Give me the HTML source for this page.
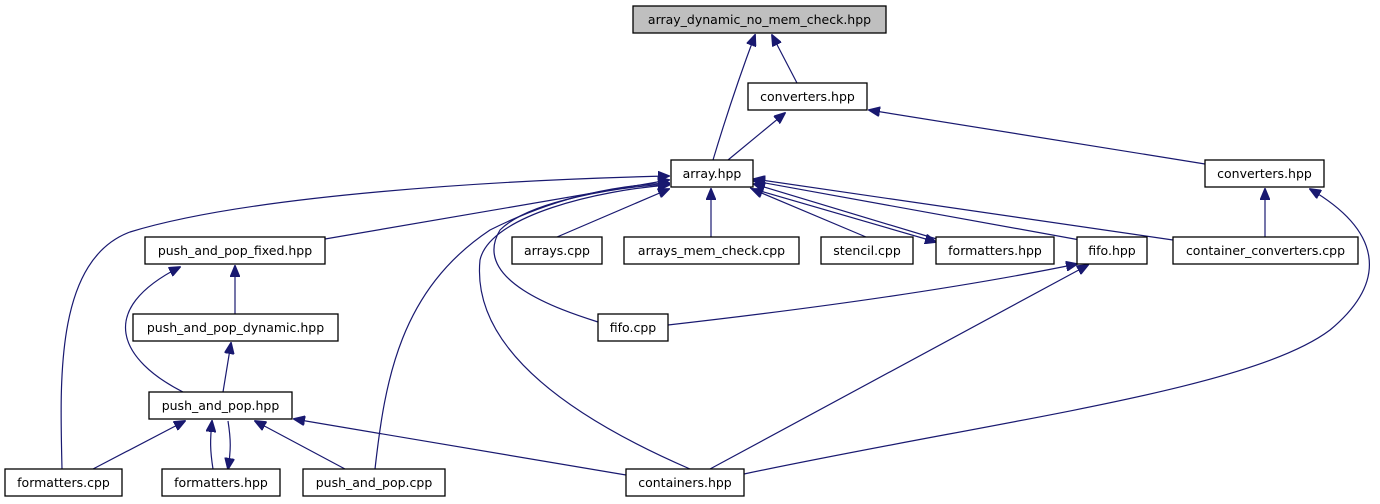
<!DOCTYPE html>
<html><head><style>
html,body{margin:0;padding:0;background:#fff;}
svg{display:block}
text{font-family:"DejaVu Sans","Liberation Sans",sans-serif;font-size:12.5px;fill:#000;text-anchor:middle}
.n{fill:#fff;stroke:#000;stroke-width:1.3}
.e{fill:none;stroke:#191970;stroke-width:1.2;marker-end:url(#ah)}
</style></head><body>
<svg width="1380" height="504" viewBox="0 0 1380 504" xmlns="http://www.w3.org/2000/svg">
<defs><marker id="ah" markerWidth="12" markerHeight="10" refX="11" refY="5" orient="auto" markerUnits="userSpaceOnUse"><path d="M0,0 L12,5 L0,10 Z" fill="#191970" stroke="#191970"/></marker></defs>
<!-- edges -->
<path class="e" d="M713,160 C725,120 740,75 755,35"/>
<path class="e" d="M797,83 L772,35"/>
<path class="e" d="M728,160 L785,113"/>
<path class="e" d="M1205,164 L869,110"/>
<path class="e" d="M1265,237 L1265,189"/>
<path class="e" d="M744,474 C1000,420 1250,390 1330,330 C1390,280 1380,230 1310,189"/>
<path class="e" d="M557,237 L669,189"/>
<path class="e" d="M711,237 L711,189"/>
<path class="e" d="M866,237 L752,189"/>
<path class="e" d="M940,240 L754,184"/>
<path class="e" d="M750,188 L936,242"/>
<path class="e" d="M1080,240 L754,181"/>
<path class="e" d="M1173,240 L754,179"/>
<path class="e" d="M325,239 L669,180"/>
<path class="e" d="M62,469 C60,380 55,260 130,232 C250,195 500,180 669,176"/>
<path class="e" d="M375,469 C385,380 400,290 490,230 C560,195 620,185 669,183"/>
<path class="e" d="M690,469 C600,430 470,360 480,260 C490,215 600,190 669,185"/>
<path class="e" d="M598,322 C560,310 470,280 500,230 C530,200 620,187 669,184"/>
<path class="e" d="M668,325 C800,310 950,290 1077,264"/>
<path class="e" d="M710,469 L1088,265"/>
<path class="e" d="M626,475 L294,419"/>
<path class="e" d="M183,392 C120,360 95,310 180,267"/>
<path class="e" d="M235,314 L235,266"/>
<path class="e" d="M223,392 L231,343"/>
<path class="e" d="M93,469 L185,421"/>
<path class="e" d="M213,469 C210,450 210,440 212,421"/>
<path class="e" d="M228,421 C231,440 231,450 228,469"/>
<path class="e" d="M345,469 L255,421"/>
<!-- nodes -->
<rect x="633" y="6" width="253" height="27" fill="#bfbfbf" stroke="#000" stroke-width="1.3"/><text x="759.5" y="24">array_dynamic_no_mem_check.hpp</text>
<rect class="n" x="748" y="83" width="119" height="27"/><text x="807.5" y="101">converters.hpp</text>
<rect class="n" x="671" y="160" width="82" height="27"/><text x="712" y="178">array.hpp</text>
<rect class="n" x="1205" y="160" width="119" height="27"/><text x="1264.5" y="178">converters.hpp</text>
<rect class="n" x="145" y="237" width="180" height="27"/><text x="235" y="255">push_and_pop_fixed.hpp</text>
<rect class="n" x="512" y="237" width="90" height="27"/><text x="557" y="255">arrays.cpp</text>
<rect class="n" x="624" y="237" width="175" height="27"/><text x="711.5" y="255">arrays_mem_check.cpp</text>
<rect class="n" x="821" y="237" width="92" height="27"/><text x="867" y="255">stencil.cpp</text>
<rect class="n" x="936" y="237" width="118" height="27"/><text x="995" y="255">formatters.hpp</text>
<rect class="n" x="1077" y="237" width="70" height="27"/><text x="1112" y="255">fifo.hpp</text>
<rect class="n" x="1173" y="237" width="185" height="27"/><text x="1265.5" y="255">container_converters.cpp</text>
<rect class="n" x="133" y="314" width="205" height="27"/><text x="235.5" y="332">push_and_pop_dynamic.hpp</text>
<rect class="n" x="598" y="314" width="70" height="27"/><text x="633" y="332">fifo.cpp</text>
<rect class="n" x="149" y="392" width="143" height="27"/><text x="220.5" y="410">push_and_pop.hpp</text>
<rect class="n" x="5" y="469" width="117" height="27"/><text x="63.5" y="487">formatters.cpp</text>
<rect class="n" x="162" y="469" width="118" height="27"/><text x="221" y="487">formatters.hpp</text>
<rect class="n" x="303" y="469" width="142" height="27"/><text x="374" y="487">push_and_pop.cpp</text>
<rect class="n" x="626" y="469" width="118" height="27"/><text x="685" y="487">containers.hpp</text>
</svg>
</body></html>
